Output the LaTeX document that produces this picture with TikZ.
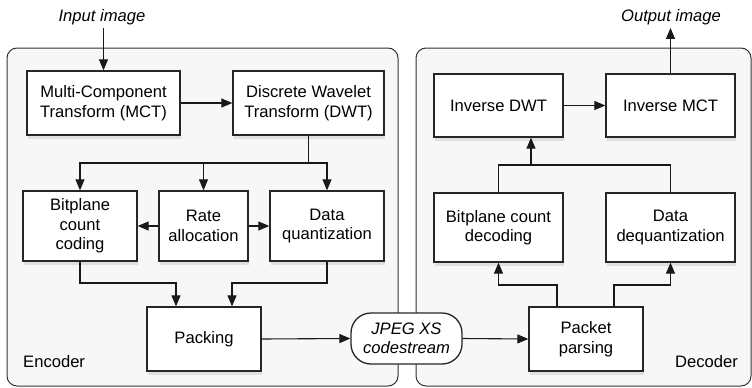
\documentclass[tikz,border=0pt]{standalone}
\usepackage{fontspec}
\setmainfont{Liberation Sans}
\usetikzlibrary{arrows.meta,shadows}
\begin{document}
\begin{tikzpicture}[x=1pt,y=-1pt,
  font=\fontsize{16.6}{19.5}\selectfont,
  box/.style={draw=black!85, line width=1.3pt, fill=white, align=center, inner sep=0pt,
    drop shadow={opacity=0.2, shadow xshift=1pt, shadow yshift=-3.5pt}},
  cont/.style={draw=black!80, line width=1pt, fill=black!3, rounded corners=10pt},
  arr/.style={-{Triangle[length=11pt,width=9pt]}, line width=1.1pt, draw=black!90},
  ln/.style={line width=1.1pt, draw=black!90},
  lbl/.style={inner sep=0pt, font=\fontsize{16.6}{19.5}\selectfont\itshape}]
\useasboundingbox (0,0) rectangle (752,388);
\draw[cont] (7,48) rectangle (398,386);
\draw[cont] (416,48) rectangle (751,386);
% encoder
\node[box, minimum width=153pt, minimum height=64pt] (mct) at (103.5,103) {Multi-Component\\Transform (MCT)};
\node[box, minimum width=151pt, minimum height=64pt] (dwt) at (308.5,103) {Discrete Wavelet\\Transform (DWT)};
\node[box, minimum width=114pt, minimum height=70pt] (bcc) at (80,226) {Bitplane\\count\\coding};
\node[box, minimum width=89pt, minimum height=70pt] (rate) at (203.5,226) {Rate\\allocation};
\node[box, minimum width=114pt, minimum height=70pt] (dq) at (327,226) {Data\\quantization};
\node[box, minimum width=114pt, minimum height=64pt] (pack) at (204,339) {Packing};
\node[draw=black!85, line width=1.3pt, fill=white, align=center, inner sep=0pt, rounded corners=20pt,
  minimum width=111pt, minimum height=51pt, font=\fontsize{16.6}{19.5}\selectfont\itshape] (cs) at (406.5,338.5) {JPEG XS\\codestream};
\node[anchor=west, inner sep=0pt] (enc) at (23,362) {Encoder};
% decoder
\node[box, minimum width=114pt, minimum height=64pt] (pp) at (586,339) {Packet\\parsing};
\node[box, minimum width=129pt, minimum height=69pt] (bcd) at (498.5,227.5) {Bitplane count\\decoding};
\node[box, minimum width=129pt, minimum height=69pt] (ddq) at (670.5,227.5) {Data\\dequantization};
\node[box, minimum width=129pt, minimum height=63pt] (idwt) at (498.5,105.5) {Inverse DWT};
\node[box, minimum width=129pt, minimum height=63pt] (imct) at (670.5,105.5) {Inverse MCT};
\node[anchor=east, inner sep=0pt] (dec) at (738,362) {Decoder};
% labels
\node[lbl] (in) at (102,17) {Input image};
\node[lbl] (out) at (671,17) {Output image};
% encoder connectors
\draw[arr] (in.south -| mct.north) ++(0,3) -- (mct.north);
\draw[arr] (mct.east) -- (dwt.west);
\coordinate (br) at (308.5,163);
\draw[ln] (dwt.south) -- (br);
\draw[arr] (br) -| (bcc.north);
\draw[arr] (br) -| (rate.north);
\draw[arr] (br) -| (dq.north);
\draw[arr] (rate.west) -- (bcc.east);
\draw[arr] (rate.east) -- (dq.west);
\coordinate (p1) at (176,283);
\coordinate (p2) at (232,283);
\draw[arr] (bcc.south) |- (p1) -- (p1 |- pack.north);
\draw[arr] (dq.south) |- (p2) -- (p2 |- pack.north);
\draw[arr] (pack.east) -- (cs.west);
\draw[arr] (cs.east) -- (pp.west);
% decoder connectors
\coordinate (q1) at (557,285);
\coordinate (q2) at (614,285);
\draw[arr] (q1 |- pp.north) -- (q1) -| (bcd.south);
\draw[arr] (q2 |- pp.north) -- (q2) -| (ddq.south);
\coordinate (m1) at (531,165);
\draw[ln] (bcd.north) |- (m1) -| (ddq.north);
\draw[arr] (m1) -- (m1 |- idwt.south);
\draw[arr] (idwt.east) -- (imct.west);
\draw[arr] (imct.north) -- ([yshift=-3pt]imct.north |- out.south);
\end{tikzpicture}
\end{document}
